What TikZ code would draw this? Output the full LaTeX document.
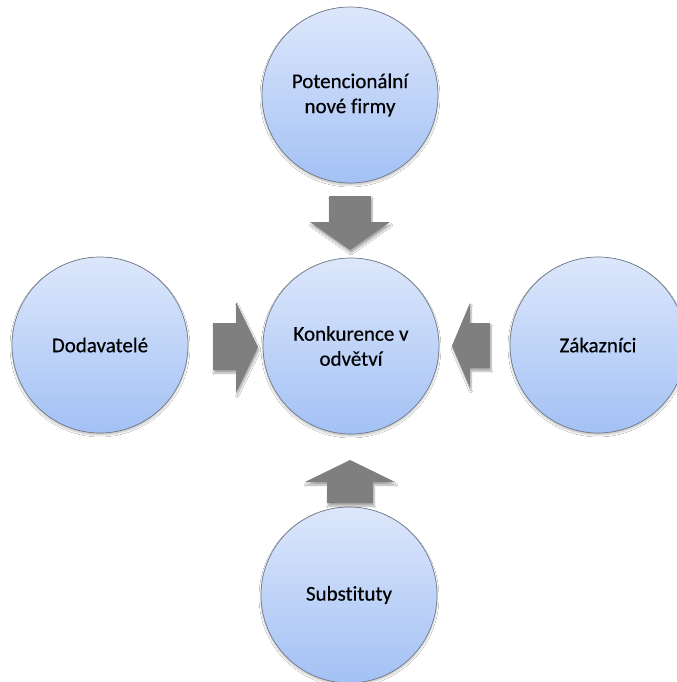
\documentclass[tikz,border=0pt]{standalone}
\usepackage{fontspec}
\setmainfont{Carlito}[Ligatures={NoCommon}]
\newfontfamily\lblfont{Carlito}[Ligatures={NoCommon}, FakeBold=0.35]
\usetikzlibrary{shadows.blur}
\definecolor{ctop}{HTML}{DDE7FB}
\definecolor{cbot}{HTML}{A3C1F5}
\definecolor{cedge}{HTML}{6F7A88}
\definecolor{arrgray}{HTML}{7F7F7F}
\tikzset{
  bubble/.style={circle, minimum size=176bp, inner sep=0pt, draw=cedge, line width=0.7bp,
    top color=ctop, bottom color=cbot, align=center, font=\lblfont\fontsize{21bp}{25bp}\selectfont,
    blur shadow={shadow xshift=0bp, shadow yshift=-2bp, shadow blur steps=6, shadow opacity=25}},
  blockarrow/.style={fill=arrgray, draw=none,
    blur shadow={shadow xshift=1bp, shadow yshift=-3bp, shadow blur steps=6, shadow opacity=35}}
}
\begin{document}
\begin{tikzpicture}[x=1bp,y=-1bp]
\useasboundingbox (0,0) rectangle (677,682);
\fill[white] (0,0) rectangle (677,682);
\node[bubble] (top) at (350,95) {Potencionální\\nové firmy};
\node[bubble] (mid) at (351,346) {Konkurence v\\odvětví};
\node[bubble] (left) at (100,345) {Dodavatelé};
\node[bubble] (right) at (598,345) {Zákazníci};
\node[bubble] (bot) at (349,595) {Substituty};
% block arrows
\fill[blockarrow] (329,196) -- (371,196) -- (371,222) -- (390,222) -- (350,250) -- (310,222) -- (329,222) -- cycle;
\fill[blockarrow] (327,503) -- (373,503) -- (373,482) -- (395,482) -- (350,460) -- (305,482) -- (327,482) -- cycle;
\fill[blockarrow] (213,323) -- (236,323) -- (236,302) -- (258,347) -- (236,393) -- (236,370) -- (213,370) -- cycle;
\fill[blockarrow] (490,323) -- (470,323) -- (470,303) -- (452,346) -- (470,388) -- (470,368) -- (490,368) -- cycle;
\end{tikzpicture}
\end{document}
